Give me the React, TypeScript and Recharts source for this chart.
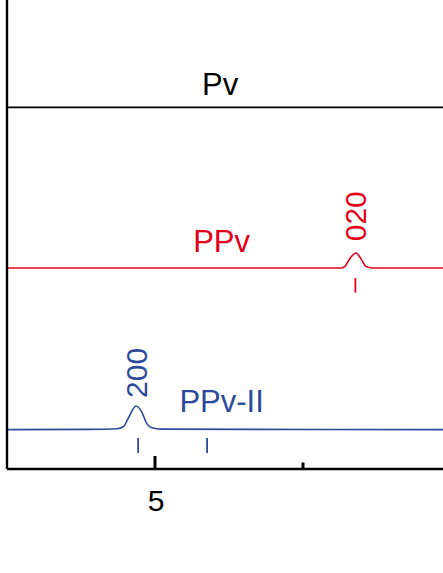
import { ComposedChart, Line, XAxis, YAxis, ReferenceLine, ReferenceDot } from 'recharts';

const FONT = 'Arial, "Liberation Sans", sans-serif';
const RED = '#E5001A';
const BLUE = '#2C4A9B';

// 2-theta (deg) and stacked intensity (a.u.)
const PV_X = [0, 14.73];
const PV_Y = [77.1, 77.1];

const PPV_X = [0, 11.3, 11.42, 11.55, 11.79, 11.96, 12.13, 12.33, 14.73];
const PPV_Y = [42.86, 42.86, 43.2, 44.56, 46.06, 44.8, 43.2, 42.86, 42.86];

const PPV2_X = [0, 2.8, 3.71, 3.93, 4.1, 4.36, 4.55, 4.72, 4.89, 5.23, 14.73];
const PPV2_Y = [8.4, 8.44, 8.57, 9.0, 10.87, 13.43, 12.2, 9.74, 8.8, 8.5, 8.4];

// reflection positions (drop marks)
const PPV_REFL = [11.77];
const PPV2_REFL = [4.43, 6.76];

const X_TICKS = [5, 10];
const MAJOR_TICKS = [5];

const zip = (xs: number[], ys: number[]) => xs.map((x, i) => ({ x, y: ys[i] }));

const AxisTick = (props: any) => {
  const { x, y, payload } = props;
  const major = MAJOR_TICKS.includes(payload.value);
  return (
    <g>
      <line x1={x} x2={x} y1={y} y2={y - (major ? 13 : 6.5)} stroke="#000" strokeWidth={3} />
      {major && (
        <text x={x + 1} y={y + 42} textAnchor="middle" fontSize={30} fontFamily={FONT} fill="#000">
          {payload.value}
        </text>
      )}
    </g>
  );
};

export default function App() {
  return (
    <div>
      <style>{'body{margin:0;background:#fff}'}</style>
      <ComposedChart width={443} height={573} margin={{ top: 0, right: 0, bottom: 0, left: 0 }}>
        <XAxis
          type="number"
          dataKey="x"
          domain={[0, 14.73]}
          allowDataOverflow
          ticks={X_TICKS}
          interval={0}
          height={104}
          tickSize={0}
          tickMargin={0}
          tickLine={false}
          tick={AxisTick}
          axisLine={{ stroke: '#000', strokeWidth: 2.6 }}
        />
        <YAxis
          type="number"
          domain={[0, 100]}
          allowDataOverflow
          width={7}
          tick={false}
          tickLine={false}
          axisLine={{ stroke: '#000', strokeWidth: 2.4 }}
        />

        <Line data={zip(PV_X, PV_Y)} dataKey="y" stroke="#000" strokeWidth={1.8} dot={false} isAnimationActive={false} />
        <Line data={zip(PPV_X, PPV_Y)} type="monotone" dataKey="y" stroke={RED} strokeWidth={1.6} dot={false} isAnimationActive={false} />
        <Line data={zip(PPV2_X, PPV2_Y)} type="monotone" dataKey="y" stroke={BLUE} strokeWidth={1.6} dot={false} isAnimationActive={false} />

        {PPV_REFL.map((r) => (
          <ReferenceLine key={'r' + r} segment={[{ x: r, y: 40.7 }, { x: r, y: 37.6 }]} stroke={RED} strokeWidth={1.8} />
        ))}
        {PPV2_REFL.map((r) => (
          <ReferenceLine key={'b' + r} segment={[{ x: r, y: 6.6 }, { x: r, y: 3.4 }]} stroke={BLUE} strokeWidth={1.8} />
        ))}

        <ReferenceDot x={7.2} y={82.1} r={0} stroke="none" fill="none"
          label={{ value: 'Pv', position: 'center', fill: '#000', fontSize: 31, fontFamily: FONT }} />
        <ReferenceDot x={7.25} y={48.6} r={0} stroke="none" fill="none"
          label={{ value: 'PPv', position: 'center', fill: RED, fontSize: 31, fontFamily: FONT }} />
        <ReferenceDot x={7.25} y={14.5} r={0} stroke="none" fill="none"
          label={{ value: 'PPv-II', position: 'center', fill: BLUE, fontSize: 31, fontFamily: FONT }} />
        <ReferenceDot x={11.77} y={53.9} r={0} stroke="none" fill="none"
          label={{ value: '020', position: 'center', angle: -90, fill: RED, fontSize: 30, fontFamily: FONT }} />
        <ReferenceDot x={4.36} y={20.5} r={0} stroke="none" fill="none"
          label={{ value: '200', position: 'center', angle: -90, fill: BLUE, fontSize: 30, fontFamily: FONT }} />
      </ComposedChart>
    </div>
  );
}
